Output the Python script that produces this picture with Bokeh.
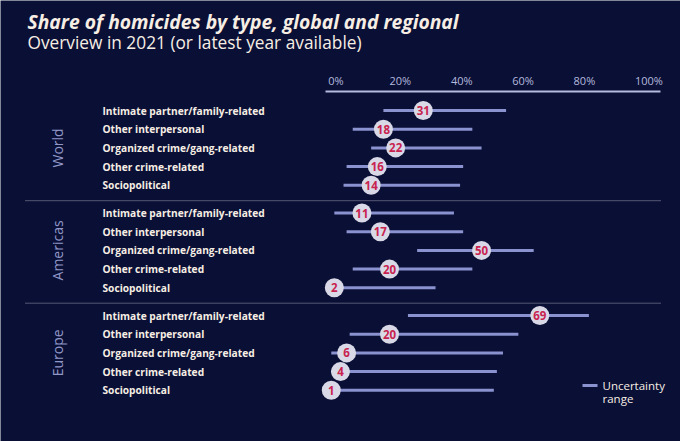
from bokeh.plotting import figure
from bokeh.models import Range1d, Label, ColumnDataSource
from bokeh.core.properties import value
from bokeh.embed import file_html
from bokeh.resources import INLINE
import math

# ---------------- data ----------------
regions = ["World", "Americas", "Europe"]
categories = ["Intimate partner/family-related", "Other interpersonal",
              "Organized crime/gang-related", "Other crime-related", "Sociopolitical"]
world_share = [31, 18, 22, 16, 14]
world_low = [18, 8, 14, 6, 5]
world_high = [58, 47, 50, 44, 43]
americas_share = [11, 17, 50, 20, 2]
americas_low = [2, 6, 29, 8, 0]
americas_high = [41, 44, 67, 47, 35]
europe_share = [69, 20, 6, 4, 1]
europe_low = [26, 7, 1, 1, 0]
europe_high = [85, 62, 57, 55, 54]
tick_values = [0, 20, 40, 60, 80, 100]
tick_labels = ["0%", "20%", "40%", "60%", "80%", "100%"]

title = "Share of homicides by type, global and regional"
subtitle = "Overview in 2021 (or latest year available)"
legend_text = ["Uncertainty", "range"]

# ---------------- style / layout ----------------
W, H = 680, 441
BG = "#0a0f35"
LINE = "#8a92cf"
DOT_FILL = "#d9d8e7"
NUM = "#c8234f"
TXT = "#f6eee4"
REG = "#9198c8"
FONT = "Open Sans"

PX0 = 327.7      # pixel of 0 %
PX_PER = 3.067   # pixels per percentage point
ROW0, ROW_STEP, GROUP_STEP = 110.0, 18.7, 102.5


def px2x(px):
    return (px - PX0) / PX_PER


p = figure(width=W, height=H, x_range=Range1d(px2x(0), px2x(W)), y_range=Range1d(H, 0),
           min_border=0, toolbar_location=None, output_backend="svg",
           x_axis_location=None, y_axis_location=None,
           background_fill_color=BG, border_fill_color=BG, outline_line_color=None)
p.grid.visible = False

shares = [world_share, americas_share, europe_share]
lows = [world_low, americas_low, europe_low]
highs = [world_high, americas_high, europe_high]

ys, ss, lo, hi, labs = [], [], [], [], []
for g in range(len(regions)):
    for i, c in enumerate(categories):
        ys.append(ROW0 + g * GROUP_STEP + i * ROW_STEP)
        ss.append(shares[g][i])
        lo.append(lows[g][i])
        hi.append(highs[g][i])
        labs.append(c)

src = ColumnDataSource(dict(y=ys, share=ss, low=lo, high=hi, cat=labs,
                            num=[str(v) for v in ss], lx=[px2x(102)] * len(ys)))

# axis (top)
p.segment(x0=[px2x(325)], x1=[px2x(660)], y0=[91], y1=[91], line_color="#b4b9de", line_width=2)
p.text(x=tick_values, y=[80] * len(tick_values), text=tick_labels, text_color="#b4b9de",
       text_font=value(FONT), text_font_size="11px", text_align="left", text_baseline="middle")

# separators
for g in range(1, len(regions)):
    yy = ROW0 + g * GROUP_STEP - 12.3
    p.segment(x0=[px2x(25)], x1=[px2x(660)], y0=[yy], y1=[yy], line_color="#a0a2b6",
              line_width=1, line_dash="1 1")

# uncertainty ranges
p.segment(x0="low", x1="high", y0="y", y1="y", source=src, line_color=LINE, line_width=3)
# points
p.scatter(x="share", y="y", source=src, size=19, fill_color=DOT_FILL, line_color=None)
p.text(x="share", y="y", text="num", source=src, text_color=NUM, text_font=value(FONT),
       text_font_size="11.5px", text_font_style="bold", text_align="center", text_baseline="middle")

# category labels
p.text(x="lx", y="y", text="cat", source=src, text_color=TXT, text_font=value(FONT),
       text_font_size="10.2px", text_font_style="bold", text_align="left", text_baseline="middle")

# region labels
for g, r in enumerate(regions):
    yc = ROW0 + g * GROUP_STEP + 2 * ROW_STEP
    p.text(x=[px2x(57)], y=[yc], text=[r], angle=math.pi / 2, text_color=REG,
           text_font=value(FONT), text_font_size="14px", text_align="center",
           text_baseline="middle")

# legend
p.segment(x0=[px2x(582)], x1=[px2x(597)], y0=[385], y1=[385], line_color=LINE, line_width=3)
p.add_layout(Label(x=602, y=H - 385, x_units="screen", y_units="screen", text=legend_text[0],
                   text_color=TXT, text_font=FONT, text_font_size="11.5px",
                   text_baseline="middle"))
p.add_layout(Label(x=602, y=H - 398, x_units="screen", y_units="screen", text=legend_text[1],
                   text_color=TXT, text_font=FONT, text_font_size="11.5px",
                   text_baseline="middle"))

# titles
p.add_layout(Label(x=27, y=H - 21, x_units="screen", y_units="screen", text=title,
                   text_color=TXT, text_font=FONT, text_font_size="19.3px",
                   text_font_style="bold italic", text_baseline="alphabetic"))
p.add_layout(Label(x=27, y=H - 42, x_units="screen", y_units="screen", text=subtitle,
                   text_color=TXT, text_font=FONT, text_font_size="17.3px",
                   text_baseline="alphabetic"))

open("out.html", "w").write(file_html(p, INLINE))
